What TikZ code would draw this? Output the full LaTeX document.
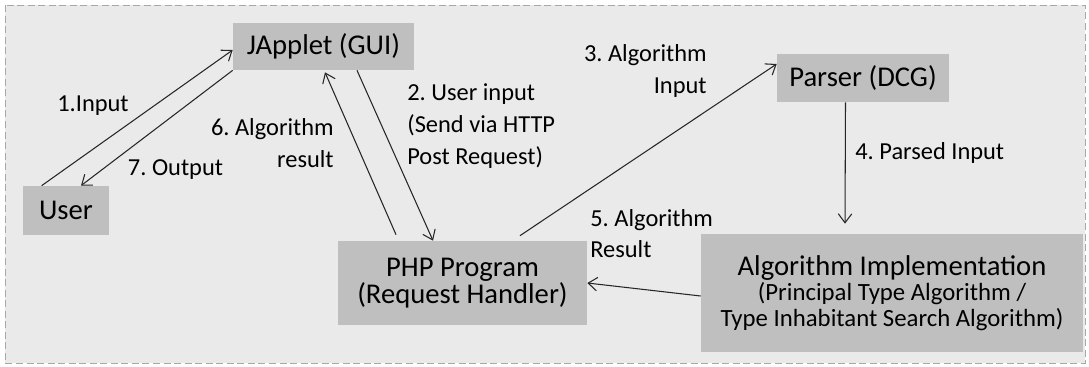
\documentclass[tikz,border=0pt]{standalone}
\usepackage{fontspec}
\setmainfont{Carlito}
\usepackage{tikz}
\usetikzlibrary{arrows.meta, positioning}

\definecolor{boxgray}{HTML}{BFBFBF}
\definecolor{paper}{HTML}{EAEAEA}
\definecolor{framegray}{HTML}{A8A8A8}
\definecolor{inkgray}{HTML}{262626}

\frenchspacing

\begin{document}
\begin{tikzpicture}[
  x=0.02cm, y=-0.02cm,
  box/.style={rectangle, fill=boxgray, inner sep=0pt, align=center, text=black, font=\fontsize{16.3}{15.2}\selectfont},
  lbl/.style={inner sep=0pt, text=black, font=\fontsize{13.9}{18}\selectfont},
  arrow/.style={-{Straight Barb[length=0.18cm, width=0.27cm]}, line width=0.6pt, inkgray},
]

% Background
\useasboundingbox (0,0) rectangle (1089,366);
\draw[framegray, fill=paper, dashed, dash pattern=on 4pt off 2pt, line width=0.5pt] (5,5) rectangle (1085,363);

% Boxes
\node[box, minimum width=3.62cm, minimum height=0.94cm] (gui) at (323.5,46.5) {JApplet (GUI)};
\node[box, minimum width=1.72cm, minimum height=0.98cm] (user) at (66,210.5) {User};
\node[box, minimum width=4.98cm, minimum height=1.68cm] (php) at (462.5,283) {PHP Program\\(Request Handler)};
\node[box, minimum width=3.44cm, minimum height=0.96cm] (parser) at (863,78) {Parser (DCG)};
\node[box, minimum width=7.64cm, minimum height=2.36cm, font=\fontsize{14.1}{14.4}\selectfont] (algo) at (892,293)
  {{\fontsize{16.3}{14.4}\selectfont Algorithm Implementation}\\(Principal Type Algorithm /\\Type Inhabitant Search Algorithm)};

% Arrows
\draw[arrow] ([xshift=0.38cm]user.north west) -- ([yshift=-0.07cm]gui.west);
\draw[arrow] (gui.south west) -- ([xshift=0.3cm]user.north);
\draw[arrow] ([xshift=-1.33cm, yshift=0.12cm]php.north) -- ([xshift=0.03cm, yshift=-0.04cm]gui.south);
\draw[arrow] ([xshift=0.67cm]gui.south) -- ([xshift=-0.59cm]php.north);
\draw[arrow] ([xshift=1.15cm, yshift=0.1cm]php.north) -- ([yshift=0.28cm]parser.west);
\draw[arrow] ([xshift=-0.35cm]parser.south) -- ([xshift=-0.94cm, yshift=0.2cm]algo.north);
\draw[arrow] ([yshift=-0.06cm]algo.west) -- (php.east);

% Labels
\node[lbl] (l1) at (93,106) {1.Input};
\node[lbl] (l2) [anchor=west, align=left] at (407,126) {2. User input\\(Send via HTTP\\Post Request)};
\node[lbl] (l3) [anchor=east, align=right] at (707,71) {3. Algorithm\\Input};
\node[lbl] (l4) [anchor=west] at (855,153) {4. Parsed Input};
\node[lbl] (l5) [anchor=west, align=left] at (590,233.5) {5. Algorithm\\Result};
\node[lbl] (l6) [anchor=east, align=right] at (334,143) {6. Algorithm\\result};
\node[lbl] (l7) at (175.5,170) {7. Output};

\end{tikzpicture}
\end{document}
